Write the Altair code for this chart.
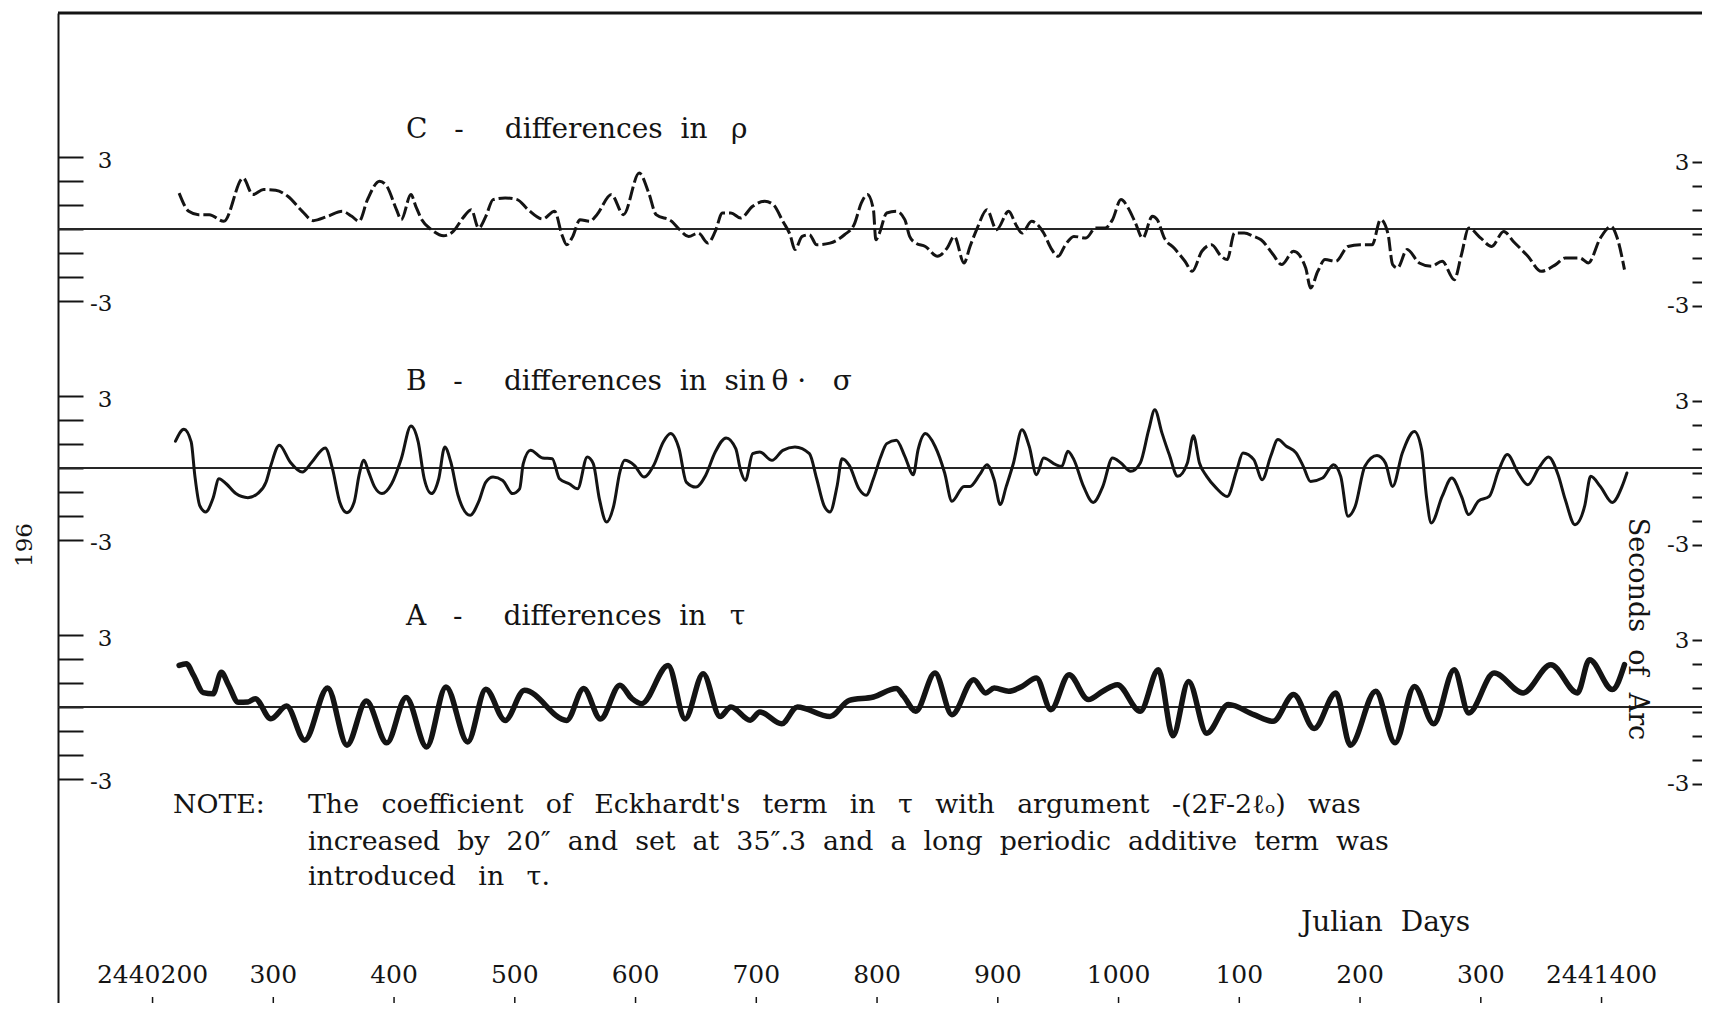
import altair as alt
import pandas as pd

JD0 = 2440000

# ---- C : differences in rho (days after JD 2440000, seconds of arc) ----
c_days = [222, 230, 238, 247, 259, 275, 283, 292, 302, 312, 324, 333, 345, 357, 365,
          371, 378, 388, 394, 402, 406, 414, 418, 423, 431, 441, 449, 457, 464, 470,
          476, 482, 492, 502, 511, 523, 533, 539, 543, 548, 554, 562, 568, 580, 590,
          603, 611, 617, 630, 636, 644, 652, 660, 666, 672, 679, 687, 697, 707, 714,
          722, 728, 732, 738, 744, 750, 761, 773, 781, 787, 792, 797, 799, 802, 808, 816,
          823, 827, 832, 840, 850, 858, 864, 872, 877, 883, 891, 899, 909, 915, 920,
          928, 938, 944, 950, 956, 963, 973, 981, 989, 995, 1002, 1008, 1014, 1020, 1028,
          1032, 1038, 1046, 1055, 1061, 1069, 1077, 1085, 1090, 1096, 1104, 1112, 1118,
          1128, 1135, 1145, 1155, 1159, 1165, 1171, 1180, 1190, 1200, 1210, 1217, 1223,
          1227, 1231, 1239, 1249, 1259, 1268, 1278, 1284, 1290, 1300, 1309, 1319, 1327,
          1339, 1350, 1362, 1370, 1382, 1389, 1399, 1408, 1413, 1419]
c_vals = [1.5, 0.74, 0.6, 0.6, 0.32, 2.13, 1.44, 1.65, 1.62, 1.37, 0.74, 0.35, 0.53, 0.74, 0.53,
          0.32, 1.23, 2.0, 1.79, 0.81, 0.39, 1.44, 0.95, 0.39, -0.03, -0.28, -0.1, 0.46, 0.81, 0.04,
          0.53, 1.23, 1.3, 1.23, 0.81, 0.42, 0.74, -0.24, -0.66, -0.31, 0.39, 0.32, 0.6, 1.44, 0.6,
          2.34, 1.5, 0.6, 0.32, 0.0, -0.31, -0.17, -0.59, -0.1, 0.67, 0.67, 0.46, 0.95, 1.16, 1.02,
          0.32, -0.24, -0.86, -0.31, -0.24, -0.66, -0.59, -0.24, 0.18, 1.09, 1.44, 0.81, -0.45, -0.17, 0.67, 0.74,
          0.39, -0.31, -0.59, -0.73, -1.14, -0.8, -0.31, -1.42, -0.73, 0.04, 0.81, -0.03, 0.74, 0.18, -0.17,
          0.32, -0.17, -0.8, -1.14, -0.66, -0.31, -0.38, 0.04, 0.04, 0.39, 1.23, 0.88, 0.25, -0.38, 0.53,
          0.39, -0.38, -0.8, -1.35, -1.77, -0.93, -0.66, -1.14, -1.28, -0.17, -0.17, -0.31, -0.45,
          -1.07, -1.49, -0.93, -1.63, -2.47, -1.77, -1.28, -1.35, -0.73, -0.66, -0.66, 0.39, -0.17,
          -1.49, -1.63, -0.86, -1.42, -1.56, -1.35, -2.12, -1.07, 0.04, -0.38, -0.73, -0.1, -0.52,
          -1.14, -1.77, -1.49, -1.21, -1.21, -1.42, -0.38, 0.11, -0.38, -1.7]

# ---- B : differences in sin(theta)*sigma ----
b_days = [219, 226, 232, 235, 239, 244, 250, 255, 261, 269, 279, 287, 294, 298, 305,
          314, 324, 332, 343, 349, 355, 361, 367, 371, 375, 379, 384, 390, 398, 406,
          414, 420, 425, 431, 437, 442, 447, 453, 463, 470, 476, 482, 490, 498, 504,
          507, 513, 523, 531, 537, 545, 552, 560, 565, 570, 576, 582, 587, 591, 599,
          607, 615, 623, 629, 636, 642, 650, 658, 666, 675, 683, 687, 691, 697, 703,
          713, 722, 732, 744, 750, 756, 761, 767, 771, 777, 785, 791, 797, 803, 808, 816,
          823, 830, 834, 840, 848, 856, 862, 872, 877, 885, 891, 897, 902, 907, 913,
          920, 926, 932, 938, 948, 953, 958, 963, 971, 979, 987, 995, 1002, 1010, 1018,
          1025, 1030, 1036, 1042, 1049, 1057, 1062, 1067, 1073, 1081, 1090, 1098, 1103, 1112, 1119,
          1126, 1132, 1139, 1147, 1153, 1159, 1169, 1178, 1184, 1190, 1196, 1204, 1214, 1221, 1227,
          1235, 1245, 1251, 1255, 1259, 1268, 1276, 1284, 1290, 1298, 1307, 1315, 1322, 1331, 1339,
          1348, 1356, 1364, 1370, 1378, 1386, 1391, 1399, 1409, 1417, 1421]
b_vals = [1.12, 1.62, 1.09, -0.31, -1.56, -1.84, -1.28, -0.45, -0.66, -1.07, -1.24, -1.07, -0.59, 0.11, 0.95,
          0.25, -0.17, 0.25, 0.84, -0.03, -1.42, -1.87, -1.42, -0.31, 0.32, -0.17, -0.8, -1.07, -0.66, 0.39,
          1.76, 1.09, -0.45, -1.07, -0.45, 0.88, 0.25, -1.14, -1.98, -1.42, -0.59, -0.38, -0.52, -1.07, -0.87,
          0.18, 0.74, 0.42, 0.39, -0.45, -0.66, -0.87, 0.46, 0.18, -1.28, -2.26, -1.56, -0.17, 0.32, 0.11,
          -0.38, 0.11, 1.09, 1.44, 0.81, -0.59, -0.8, -0.31, 0.67, 1.26, 0.81, -0.1, -0.52, 0.6, 0.67,
          0.32, 0.74, 0.88, 0.6, -0.45, -1.56, -1.84, -0.73, 0.39, 0.11, -0.87, -1.14, -0.45, 0.46, 1.02, 1.16,
          0.49, -0.28, 0.77, 1.44, 0.91, -0.21, -1.39, -0.77, -0.77, -0.28, 0.14, -0.49, -1.53, -0.77, 0.21,
          1.6, 0.91, -0.28, 0.42, 0.14, 0.07, 0.7, 0.35, -0.77, -1.44, -0.77, 0.42, 0.21, -0.14, 0.21,
          1.6, 2.44, 1.46, 0.56, -0.35, 0.21, 1.35, 0.21, -0.35, -0.84, -1.19, -0.07, 0.63, 0.35, -0.49,
          0.49, 1.19, 0.91, 0.63, 0.07, -0.56, -0.42, 0.14, -0.35, -2.02, -1.6, 0.07, 0.52, 0.21, -0.77,
          0.63, 1.53, 0.77, -1.19, -2.3, -1.19, -0.42, -1.19, -1.95, -1.39, -1.19, -0.07, 0.56, -0.21, -0.7,
          0.0, 0.46, -0.28, -1.33, -2.37, -1.6, -0.35, -0.77, -1.44, -0.77, -0.21]

# ---- A : differences in tau ----
a_days = [222, 228, 234, 242, 250, 257, 263, 271, 279, 285, 298, 311, 326, 345, 361,
          377, 394, 410, 427, 443, 461, 476, 492, 508, 543, 557, 571, 587, 597, 605,
          627, 641, 656, 670, 679, 695, 703, 721, 734, 761, 777, 797, 816, 822, 832,
          848, 862, 880, 890, 897, 909, 920, 932, 944, 959, 975, 987, 999, 1018, 1033,
          1045, 1058, 1073, 1091, 1112, 1128, 1145, 1162, 1180, 1192, 1213, 1229, 1245, 1261, 1278,
          1290, 1311, 1335, 1358, 1380, 1390, 1409, 1419]
a_vals = [1.74, 1.81, 1.32, 0.6, 0.55, 1.45, 0.91, 0.2, 0.21, 0.35, -0.49, 0.04, -1.39, 0.8, -1.6,
          0.25, -1.5, 0.4, -1.67, 0.84, -1.46, 0.74, -0.56, 0.7, -0.56, 0.77, -0.5, 0.91, 0.35, 0.14,
          1.74, -0.5, 1.39, -0.4, 0.0, -0.55, -0.21, -0.7, 0.0, -0.4, 0.28, 0.42, 0.77, 0.45, -0.18,
          1.42, -0.32, 1.14, 0.59, 0.79, 0.66, 0.86, 1.21, -0.11, 1.35, 0.31, 0.66, 0.93, -0.18, 1.56,
          -1.2, 1.07, -1.1, 0.1, -0.32, -0.6, 0.52, -0.9, 0.59, -1.6, 0.66, -1.5, 0.86, -0.7, 1.56,
          -0.25, 1.42, 0.59, 1.77, 0.59, 1.98, 0.73, 1.77]

x_tick_values = [2440200, 2440300, 2440400, 2440500, 2440600, 2440700, 2440800,
                 2440900, 2441000, 2441100, 2441200, 2441300, 2441400]
x_tick_labels = ["2440200", "300", "400", "500", "600", "700", "800",
                 "900", "1000", "100", "200", "300", "2441400"]
y_tick_units = [-3, -2, -1, 0, 1, 2, 3]

panel_letters = ["C", "B", "A"]
panel_subjects = ["differences in ρ", "differences in sin θ · σ", "differences in τ"]
note_head = "NOTE:"
note_lines = ["The coefficient of Eckhardt's term in τ with argument -(2F-2ℓₒ) was",
              "increased by 20″ and set at 35″.3 and a long periodic additive term was",
              "introduced in τ."]
x_title = "Julian Days"
y_title = "Seconds of Arc"
page_number = "196"

# ---------------- layout / style ----------------
NB = "\u00a0"
THIN = "\u2009"
FONT = "DejaVu Serif"
INK = "#141414"
W, H = 1644, 990
PX_PER_UNIT = 23.9
B_ZERO_PX = 455
PANEL_OFFSET = {"C": 10, "B": 0, "A": -10}

y_top = B_ZERO_PX / PX_PER_UNIT
y_bot = -(H - B_ZERO_PX) / PX_PER_UNIT
x_lo = JD0 + 121.7
x_hi = x_lo + W / 1.2075

xs = alt.Scale(domain=[x_lo, x_hi], nice=False, zero=False)
ys = alt.Scale(domain=[y_bot, y_top], nice=False, zero=False)
ys_right = alt.Scale(domain=[y_bot + 0.21, y_top + 0.21], nice=False, zero=False)

y_tick_values = [o + k for o in PANEL_OFFSET.values() for k in y_tick_units]
k_expr = "(datum.value - 10*round(datum.value/10))"
y_label_expr = f"{k_expr} == 3 ? '3' : ({k_expr} == -3 ? '-3' : '')"

left_axis = alt.Axis(orient="right", offset=-W, values=y_tick_values, labelExpr=y_label_expr,
                     domain=True, domainColor=INK, domainWidth=2,
                     ticks=True, tickSize=25, tickWidth=2, tickColor=INK,
                     labelFont=FONT, labelFontSize=23, labelColor=INK, labelAlign="right",
                     labelPadding=29, labelBaseline="middle", labelOffset=3,
                     labelOverlap=False, labelFlush=False, grid=False, title=None)

right_axis = alt.Axis(orient="left", offset=-W, values=y_tick_values, labelExpr=y_label_expr,
                      domain=False, ticks=True, tickSize=10, tickWidth=2, tickColor=INK,
                      labelFont=FONT, labelFontSize=23, labelColor=INK, labelAlign="right",
                      labelPadding=3, labelBaseline="middle",
                      labelOverlap=False, labelFlush=False, grid=False, title=None)


def series(days, vals, key, width, dash=None):
    df = pd.DataFrame({"jd": [JD0 + d for d in days], "v": vals})
    kw = dict(interpolate="monotone", strokeWidth=width, color=INK,
              strokeCap="round", strokeJoin="round")
    if dash:
        kw["strokeDash"] = dash
        kw["strokeCap"] = "butt"
    return (alt.Chart(df)
            .transform_calculate(yp=f"datum.v + {PANEL_OFFSET[key]}")
            .mark_line(**kw)
            .encode(x=alt.X("jd:Q", scale=xs, axis=None),
                    y=alt.Y("yp:Q", scale=ys, axis=None)))


one = pd.DataFrame({"a": [0]})


def label(txt, x, y, size, angle=0, align="left"):
    return (alt.Chart(one)
            .mark_text(text=txt, font=FONT, fontSize=size, align=align, baseline="middle",
                       angle=angle, color=INK)
            .encode(x=alt.value(x), y=alt.value(y)))


def spaced(s, gap):
    return s.replace(" ", gap)


def panel_title(i):
    subj = panel_subjects[i]
    subj = subj.replace(" in sin θ · σ", NB * 2 + "in" + NB * 2 + "sin" + THIN + "θ" + NB + "·" + NB * 3 + "σ")
    subj = subj.replace(" in ρ", NB * 2 + "in" + NB * 2 + THIN + "ρ")
    subj = subj.replace(" in τ", NB * 2 + "in" + NB * 2 + THIN + "τ")
    return panel_letters[i] + NB * 3 + "-" + NB * 4 + THIN + subj


zero_rules = (alt.Chart(pd.DataFrame({"o": list(PANEL_OFFSET.values())}))
              .mark_rule(strokeWidth=2.2, color="#262626")
              .encode(y=alt.Y("o:Q", scale=ys, axis=left_axis)))

top_rule = (alt.Chart(one).mark_rule(strokeWidth=3, color=INK)
            .encode(x=alt.value(0), x2=alt.value(W), y=alt.value(0)))

x_df = pd.DataFrame({"jd": x_tick_values, "lab": x_tick_labels})
x_ticks = (alt.Chart(x_df).mark_rule(strokeWidth=1.5, color=INK)
           .encode(x=alt.X("jd:Q", scale=xs, axis=None), y=alt.value(984), y2=alt.value(H)))
x_labels = (alt.Chart(x_df)
            .mark_text(font=FONT, fontSize=25, color=INK, align="center", baseline="alphabetic")
            .encode(x=alt.X("jd:Q", scale=xs, axis=None), y=alt.value(970), text="lab:N"))

lineC = series(c_days, c_vals, "C", 3, dash=[14, 4])
lineB = series(b_days, b_vals, "B", 3)
lineA = series(a_days, a_vals, "A", 5.5)

GAP1 = NB * 2 + THIN
GAP2 = NB * 2
texts = [
    label(panel_title(0), 348, 117, 28),
    label(panel_title(1), 348, 369, 28),
    label(panel_title(2), 348, 604, 28),
    label(note_head, 115, 792, 26.8),
    label(spaced(note_lines[0], GAP1), 250, 792, 26.8),
    label(spaced(note_lines[1], GAP2), 250, 829, 26.8),
    label(spaced(note_lines[2], GAP1), 250, 864, 26.8),
    label(spaced(x_title, NB * 2), 1243, 910, 28),
    label(page_number, -33, 532, 23, angle=270, align="center"),
    label(spaced(y_title, NB * 2), 1579, 616, 27, angle=90, align="center"),
]

right_layer = (alt.Chart(pd.DataFrame({"t": y_tick_values}))
               .mark_point(opacity=0)
               .encode(y=alt.Y("t:Q", scale=ys_right, axis=right_axis)))

chart = (alt.layer(zero_rules, top_rule, x_ticks, x_labels, lineC, lineB, lineA,
                   right_layer, *texts)
         .resolve_scale(y="independent")
         .resolve_axis(y="independent")
         .properties(width=W, height=H,
                     autosize=alt.AutoSizeParams(type="none"),
                     padding={"left": 50, "top": 5, "right": 0, "bottom": 0},
                     background="white")
         .configure_view(stroke=None))

chart.save("out.html", embed_options={"renderer": "svg", "actions": False})
